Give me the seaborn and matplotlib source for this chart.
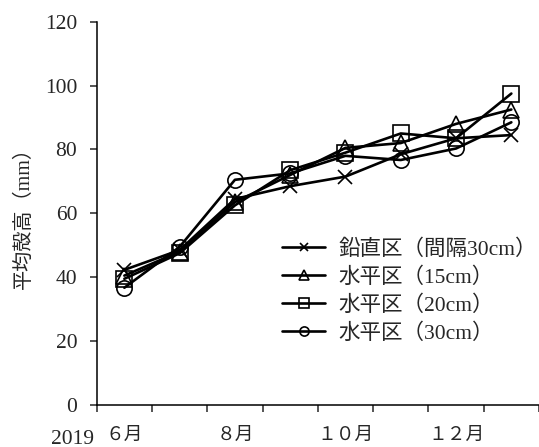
import numpy as np
import pandas as pd
import matplotlib
matplotlib.use('Agg')
import matplotlib.pyplot as plt
import seaborn as sns

months = ['６月', '７月', '８月', '９月', '１０月', '１１月', '１２月', '１月']
tick_labels = ['６月', '８月', '１０月', '１２月']
series_names = ['鉛直区（間隔30cm）', '水平区（15cm）', '水平区（20cm）', '水平区（30cm）']
vertical_30 = [42.3, 48.5, 64.5, 68.5, 71.5, 78.5, 83.5, 84.5]
horizontal_15 = [40.5, 48.0, 63.5, 72.0, 80.5, 82.0, 88.0, 92.5]
horizontal_20 = [39.5, 47.5, 62.5, 73.5, 79.0, 85.0, 83.5, 97.5]
horizontal_30 = [36.7, 49.5, 70.5, 72.5, 78.0, 76.7, 80.3, 88.5]
marker_list = ['x', '^', 's', 'o']

sns.set_style('ticks')
plt.rcParams['font.family'] = ['Liberation Serif', 'Noto Sans CJK JP']

fig = plt.figure(figsize=(5.39, 4.47), dpi=100)
ax = fig.add_axes([0.1794, 0.094, 0.8206, 0.8575])

handles = []
for name, vals, mk in zip(series_names, [vertical_30, horizontal_15, horizontal_20, horizontal_30], marker_list):
    d = pd.DataFrame({'month': months, 'height': vals})
    sns.lineplot(data=d, x='month', y='height', sort=False, color='black',
                 linewidth=1.9, marker=mk, markersize=11 if mk != 'x' else 10,
                 markerfacecolor='none', markeredgecolor='black', markeredgewidth=1.2,
                 ax=ax)
    handles.append(ax.get_lines()[-1])

ax.set_xlim(-0.5, 7.5)
ax.set_ylim(0, 120)
ax.set_yticks(np.arange(0, 121, 20))
ax.set_xticks(np.arange(-0.5, 8, 1))
ax.set_xticklabels([])
ax.set_xticks([0, 2, 4, 6], minor=True)
ax.set_xticklabels(tick_labels, minor=True)
ax.tick_params(axis='x', which='major', direction='out', length=5, width=1.1)
ax.tick_params(axis='x', which='minor', length=0, pad=16, labelsize=13.5)
ax.tick_params(axis='y', direction='out', length=5, width=1.1, pad=9, labelsize=15.5)
for s in ['left', 'bottom']:
    ax.spines[s].set_linewidth(1.1)
    ax.spines[s].set_color('black')
sns.despine(ax=ax)

ax.set_xlabel('')
ax.set_ylabel('平均殻高（mm）', fontsize=14.5, labelpad=8)

ax.legend(handles, series_names, loc='upper left', bbox_to_anchor=(0.40, 0.455),
          frameon=False, fontsize=15.5, handlelength=2.0, handletextpad=0.6,
          labelspacing=0.35, markerscale=0.6, borderaxespad=0)

fig.text(73 / 539, 1 - 439 / 447, '2019', ha='center', va='center', fontsize=15.5)

plt.savefig('out.png', dpi=100)
